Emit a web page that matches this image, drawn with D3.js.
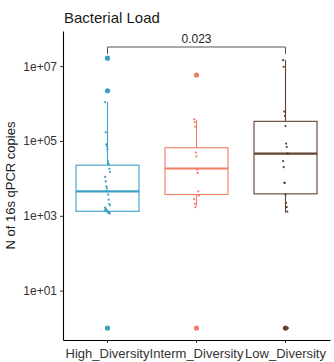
<!DOCTYPE html>
<html><head><meta charset="utf-8">
<script src="https://cdn.jsdelivr.net/npm/d3@7"></script>
<style>body{margin:0;background:#fff}svg{display:block;font-family:"Liberation Sans",Arial,sans-serif}</style>
</head><body><div id="c"></div>
<script>
const categories = ["High_Diversity","Interm_Diversity","Low_Diversity"];
const colors = ["#3b9fc6","#ef7d64","#5e4130"];
// box stats: [lowWhisker, q1, median, q3, highWhisker]
const boxStats = [
  [1.15e3, 1.32e3, 4.5e3, 2.26e4, 1.1e6],
  [1.8e3, 3.7e3, 1.84e4, 6.6e4, 3.7e5],
  [1.2e3, 3.86e3, 4.57e4, 3.35e5, 1.47e7]
];
const outliers = [
  [1.64e7, 2.2e6, 1],
  [5.8e6, 1],
  [1]
];
const highPoints = [1.1e6,1.7e5,8.1e4,7.2e4,6.0e4,2.8e4,2.4e4,1.8e4,1.5e4,1.1e4,8.3e3,6.1e3,5.4e3,4.5e3,3.7e3,2.7e3,2.1e3,1.9e3,1.66e3,1.56e3,1.47e3,1.38e3,1.3e3,1.3e3,1.22e3,1.22e3,1.15e3,1.38e3,1.47e3,1.64e7,2.2e6,1];
const intermPoints = [3.8e5,3.2e5,2.4e5,4.9e4,3.9e4,1.7e4,1.4e4,4.5e3,3.5e3,2.8e3,2.1e3,1.7e3,5.8e6,1];
const lowPoints = [1.45e7,9.6e6,6.1e5,4.7e5,2.5e5,8.5e4,6.9e4,4.6e4,4.6e4,2.9e4,2.0e4,7.6e3,7.6e3,3.7e3,2.2e3,1.7e3,1.3e3,1];
const points = [highPoints, intermPoints, lowPoints];
const yTicks = [1e1,1e3,1e5,1e7];
const tickLabels = ["1e+01","1e+03","1e+05","1e+07"];
const pValue = "0.023";

const W=334,H=362;
const m={l:63,r:4,t:31,b:22};
const svg=d3.select("#c").append("svg").attr("width",W).attr("height",H);
const x=d3.scaleBand().domain(categories).range([m.l,W-m.r]).paddingInner(0).paddingOuter(0.0);
const y=d3.scaleLog().domain([Math.pow(10,-0.32),Math.pow(10,7.94)]).range([H-m.b,m.t]);
const cx=c=>x(c)+x.bandwidth()/2;
const bw=63;

svg.append("text").attr("x",64).attr("y",23).attr("font-size",15).attr("fill","#1a1a1a").text("Bacterial Load");

// axes
const ya=svg.append("g").attr("transform",`translate(${m.l},0)`).call(d3.axisLeft(y).tickValues(yTicks).tickFormat((d,i)=>tickLabels[i]).tickSize(3).tickSizeOuter(0));
const xa=svg.append("g").attr("transform",`translate(0,${H-m.b})`).call(d3.axisBottom(x).tickSize(3).tickSizeOuter(0));
[ya,xa].forEach(g=>{g.select(".domain").attr("stroke","#000").attr("stroke-width",1.1);g.selectAll(".tick line").attr("stroke","#333");g.selectAll("text").attr("fill","#333").attr("font-family","Liberation Sans, Arial, sans-serif");});
ya.selectAll("text").attr("font-size",12);
xa.selectAll("text").attr("font-size",13).attr("dy","0.95em");

svg.append("text").attr("transform",`translate(15,${(m.t+H-m.b)/2}) rotate(-90)`).attr("text-anchor","middle").attr("font-size",13).attr("fill","#1a1a1a").text("N of 16s qPCR copies");

categories.forEach((c,i)=>{
  const g=svg.append("g");
  const s=boxStats[i], col=colors[i], X=cx(c);
  g.append("line").attr("x1",X).attr("x2",X).attr("y1",y(s[3])).attr("y2",y(s[4])).attr("stroke",col).attr("stroke-width",1.1);
  g.append("line").attr("x1",X).attr("x2",X).attr("y1",y(s[1])).attr("y2",y(s[0])).attr("stroke",col).attr("stroke-width",1.1);
  g.append("rect").attr("x",X-bw/2).attr("width",bw).attr("y",y(s[3])).attr("height",y(s[1])-y(s[3])).attr("fill","#fff").attr("stroke",col).attr("stroke-width",1.1);
  g.append("line").attr("x1",X-bw/2).attr("x2",X+bw/2).attr("y1",y(s[2])).attr("y2",y(s[2])).attr("stroke",col).attr("stroke-width",2.2);
  outliers[i].forEach(v=>g.append("circle").attr("cx",X).attr("cy",y(v)).attr("r",2.6).attr("fill",col));
  points[i].forEach((v,j)=>{
    const off=(((j*37)%9)-4)*0.6;
    g.append("circle").attr("cx",X+off).attr("cy",y(v)).attr("r",1.1).attr("fill",col);
  });
});

// significance bracket
const bx1=cx(categories[0]), bx2=cx(categories[2]), by=47;
svg.append("path").attr("d",`M${bx1},${by+7}V${by}H${bx2}V${by+7}`).attr("fill","none").attr("stroke","#555").attr("stroke-width",1);
svg.append("text").attr("x",(bx1+bx2)/2).attr("y",by-4).attr("text-anchor","middle").attr("font-size",12).attr("fill","#222").text(pValue);
</script></body></html>
